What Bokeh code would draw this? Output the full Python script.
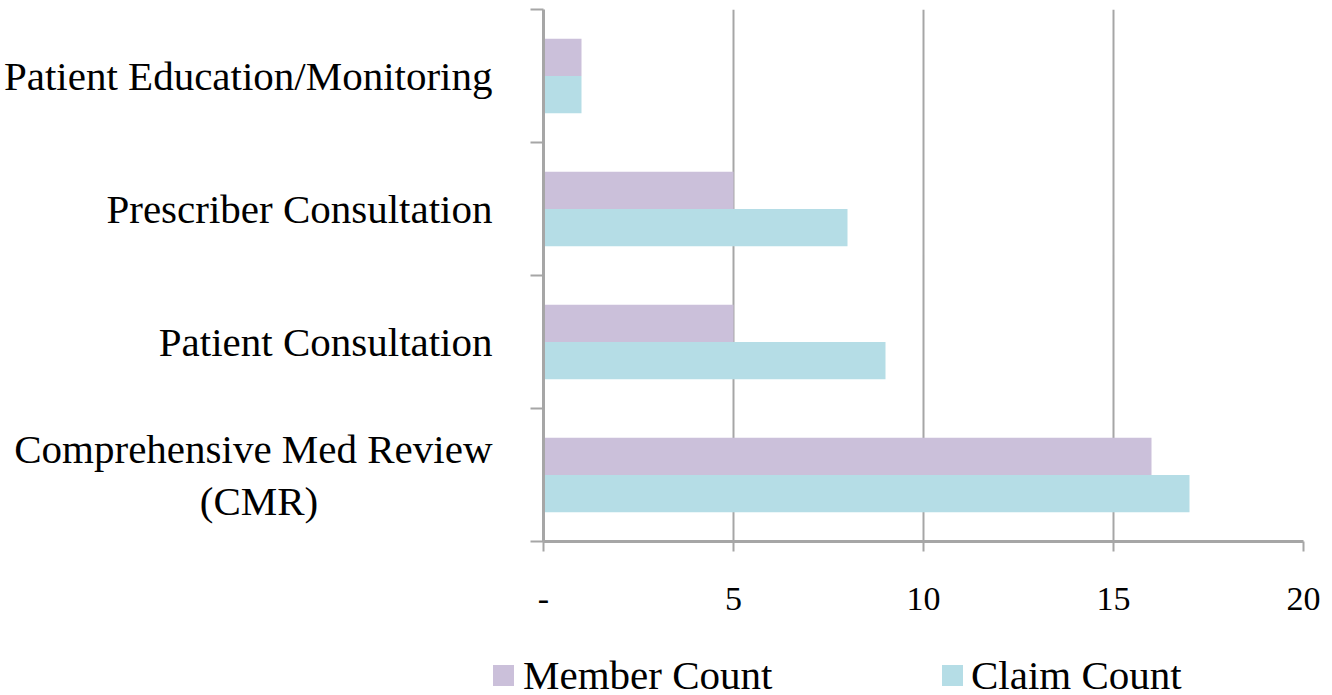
from bokeh.plotting import figure
from bokeh.models import FixedTicker, Range1d, Div
from bokeh.layouts import column
from bokeh.embed import file_html
from bokeh.resources import INLINE

# ---- data (top-to-bottom order as in the chart) ----
categories = ["Patient Education/Monitoring", "Prescriber Consultation",
              "Patient Consultation", "Comprehensive Med Review\n(CMR)"]
member_count = [1, 5, 5, 16]
claim_count = [1, 8, 9, 17]
x_ticks = [0, 5, 10, 15, 20]
x_tick_labels = ["-", "5", "10", "15", "20"]
series_names = ["Member Count", "Claim Count"]

MEMBER_COLOR = "#CBC0DA"
CLAIM_COLOR = "#B5DDE6"
GRID = "#A6A6A6"
FONT = "Liberation Serif"

n = len(categories)
centers = [n - i - 0.5 for i in range(n)]
bar_h = 0.28

# center the second line of wrapped labels under the first one
def centered(label):
    lines = label.split("\n")
    if len(lines) == 1:
        return label
    return lines[0] + "\n" + lines[1] + "\u00a0" * 17

p = figure(frame_width=760, frame_height=532, output_backend="svg", toolbar_location=None,
           x_range=Range1d(0, 20), y_range=Range1d(0, n),
           min_border_left=542, min_border_right=18, min_border_top=9,
           min_border_bottom=87)
p.outline_line_color = None
p.background_fill_color = "white"

r_member = p.hbar(y=[c + bar_h / 2 for c in centers], right=member_count, left=0,
                  height=bar_h, fill_color=MEMBER_COLOR, line_color=None)
r_claim = p.hbar(y=[c - bar_h / 2 for c in centers], right=claim_count, left=0,
                 height=bar_h, fill_color=CLAIM_COLOR, line_color=None)

# x axis
xa = p.xaxis[0]
xa.ticker = FixedTicker(ticks=x_ticks)
xa.major_label_overrides = {t: l for t, l in zip(x_ticks, x_tick_labels)}
xa.axis_line_color = GRID
xa.axis_line_width = 3
xa.major_tick_line_color = GRID
xa.major_tick_line_width = 2
xa.major_tick_out = 10
xa.major_tick_in = 0
xa.minor_tick_line_color = None
xa.major_label_standoff = 36
xa.major_label_text_font = FONT
xa.major_label_text_font_size = "34px"
xa.major_label_text_color = "black"

# y axis
ya = p.yaxis[0]
ya.ticker = FixedTicker(ticks=centers, minor_ticks=list(range(n + 1)))
ya.major_label_overrides = {c: centered(cat) for c, cat in zip(centers, categories)}
ya.axis_line_color = GRID
ya.axis_line_width = 3
ya.major_tick_line_color = None
ya.major_tick_out = 0
ya.major_tick_in = 0
ya.minor_tick_line_color = GRID
ya.minor_tick_line_width = 2
ya.minor_tick_out = 13
ya.minor_tick_in = 0
ya.major_label_standoff = 38
ya.major_label_text_font = FONT
ya.major_label_text_font_size = "41px"
ya.major_label_text_color = "black"
ya.major_label_text_line_height = 1.15

p.xgrid.ticker = FixedTicker(ticks=x_ticks[1:])
p.xgrid.grid_line_color = GRID
p.xgrid.grid_line_width = 2
p.ygrid.grid_line_color = None

# legend strip below the chart (HTML, real text)
swatch = ("<span style='position:absolute;left:{x}px;top:37px;width:21px;height:21px;"
          "background:{c};'></span>")
label = ("<span style='position:absolute;left:{x}px;top:27px;line-height:41px;"
         "white-space:nowrap;'>{t}</span>")
legend_html = (
    "<div style=\"position:relative;width:1320px;height:62px;"
    "font-family:'Liberation Serif',serif;font-size:41px;color:black;\">"
    + swatch.format(x=493, c=MEMBER_COLOR) + label.format(x=523, t=series_names[0])
    + swatch.format(x=942, c=CLAIM_COLOR) + label.format(x=971, t=series_names[1])
    + "</div>"
)
legend_div = Div(text=legend_html, width=1320, height=62, margin=0)

open("out.html", "w").write(file_html(column(p, legend_div, spacing=0), INLINE))
